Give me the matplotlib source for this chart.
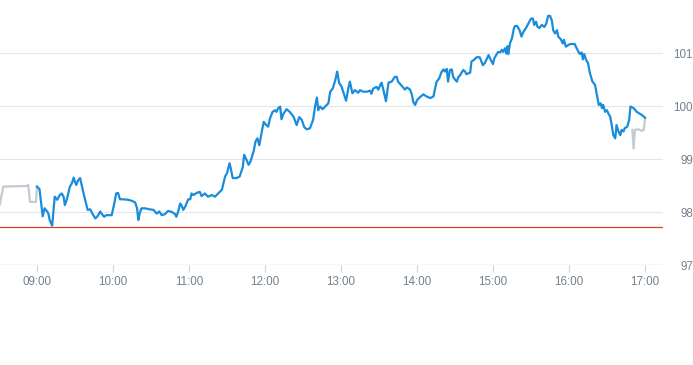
import matplotlib
matplotlib.use("Agg")
import matplotlib.pyplot as plt
import matplotlib.transforms as mtransforms

plt.rcParams['font.family'] = ['Liberation Sans', 'DejaVu Sans']

# minutes after 09:00
pre_t = [-29.5, -26.6, -8.1, -6.9, -5.5, -0.8, 0]
pre_p = [98.13, 98.48, 98.49, 98.51, 98.19, 98.19, 98.48]

main_t = [0, 2, 3, 4.5, 6, 8, 9, 10, 12, 13, 14, 16, 18, 19.5, 21, 22, 23.5, 25, 26, 27.5,
          29, 30, 31, 32.5, 34, 35, 36.5, 38, 40, 42, 44, 46, 47.5, 50, 51, 53, 54.5, 56, 59,
          61, 62.5, 64, 65.5, 68, 72, 75, 77.5, 79, 80, 81, 82.5, 85, 89, 92, 94.5, 96.5, 98.5,
          101, 103.5, 106.5, 109, 110, 111.5, 113, 114, 115.5, 117, 118, 119.5, 121, 122, 123.5,
          126, 128.5, 130, 132.5, 135, 138, 140.5, 143, 146, 148.5, 150, 152, 153, 154.5, 157.5,
          160, 162.5, 163.5, 165.5, 167, 168.5, 171, 172.5, 174, 175.5, 177.5, 179, 181, 182.5,
          184, 186, 188, 189, 190.5, 192, 193, 194.5, 197, 199.5, 202.5, 205, 207, 209, 211, 213,
          215.5, 218, 219.5, 221, 222, 223.5, 225.5, 228, 230, 231.5, 233.5, 235.5, 237, 238.5,
          240.5, 242.5, 244, 246, 247, 249, 251, 253.5, 255, 257.5, 260.5, 263, 264, 265.5, 268,
          269.5, 271, 272, 273.5, 275.5, 277.5, 280, 282.5, 284, 285, 288, 290.5, 292, 294.5, 296,
          297, 298.5, 300, 302.5, 305, 307.5, 310.5, 313, 314, 315.5, 317.5, 319.5, 321, 322,
          323.5, 324.5, 326, 327.5, 328.5, 330, 331.5, 332.5, 334, 336.5, 338, 339, 342, 343, 345,
          347, 349.5, 352, 353.5, 356.5, 358, 360, 361, 362.5, 364, 365.5, 367, 368, 369.5, 370.5,
          371.5, 372, 373.5, 375, 376.5, 377.5, 379, 381, 382.5, 384, 386, 388, 390, 391.5, 392.5,
          394, 395, 396.5, 398.5, 400.5, 402, 403.5, 405, 406.5, 407.5, 409, 410.5, 411.5, 413.5,
          415, 416, 417.5, 419.5, 421, 424.5, 426, 428.5, 430, 431, 432, 433.5, 435, 436.5, 438.5,
          440.5, 442, 443.5, 445, 446, 447, 448.5, 450, 451, 452.5, 453.5, 455, 456.5, 457.5, 459,
          460.5, 461.5, 463, 464, 466, 467.5, 468.5, 471, 473.5, 477.5, 480]
main_p = [98.48, 98.43, 98.23, 97.92, 98.07, 98.01, 97.97, 97.85, 97.74, 98.01, 98.29, 98.23,
          98.32, 98.35, 98.29, 98.13, 98.23, 98.38, 98.48, 98.54, 98.65, 98.57, 98.51, 98.60,
          98.64, 98.54, 98.38, 98.23, 98.04, 98.05, 97.96, 97.88, 97.91, 98.01, 97.97, 97.91,
          97.94, 97.94, 97.94, 98.16, 98.35, 98.36, 98.24, 98.24, 98.23, 98.21, 98.18, 98.07,
          97.85, 97.97, 98.07, 98.07, 98.05, 98.04, 97.97, 98.01, 97.94, 97.96, 98.02, 98.00,
          97.96, 97.91, 98.01, 98.16, 98.13, 98.04, 98.10, 98.16, 98.24, 98.24, 98.35, 98.32,
          98.36, 98.38, 98.30, 98.35, 98.29, 98.32, 98.29, 98.35, 98.42, 98.67, 98.73, 98.92,
          98.82, 98.64, 98.64, 98.67, 98.85, 99.08, 98.98, 98.89, 98.95, 99.14, 99.33, 99.39,
          99.26, 99.52, 99.70, 99.64, 99.61, 99.77, 99.89, 99.92, 99.89, 99.96, 99.99, 99.75,
          99.85, 99.94, 99.89, 99.80, 99.64, 99.79, 99.74, 99.60, 99.56, 99.58, 99.74, 99.99,
          100.16, 99.92, 99.99, 99.94, 100.00, 100.05, 100.27, 100.33, 100.49, 100.65, 100.44,
          100.36, 100.21, 100.10, 100.36, 100.46, 100.24, 100.30, 100.25, 100.30, 100.27, 100.27,
          100.29, 100.23, 100.33, 100.36, 100.31, 100.40, 100.44, 100.30, 100.09, 100.44, 100.46,
          100.55, 100.55, 100.46, 100.38, 100.31, 100.35, 100.31, 100.21, 100.08, 100.02, 100.11,
          100.17, 100.22, 100.18, 100.15, 100.18, 100.30, 100.46, 100.52, 100.65, 100.69, 100.65,
          100.70, 100.46, 100.68, 100.69, 100.55, 100.50, 100.46, 100.54, 100.58, 100.68, 100.65,
          100.60, 100.63, 100.84, 100.87, 100.92, 100.92, 100.77, 100.81, 100.96, 100.88, 100.79,
          100.90, 100.96, 101.02, 101.01, 101.06, 101.02, 101.09, 100.99, 101.13, 100.98, 101.19,
          101.28, 101.47, 101.51, 101.51, 101.43, 101.31, 101.40, 101.47, 101.56, 101.65, 101.65,
          101.53, 101.59, 101.50, 101.47, 101.53, 101.49, 101.55, 101.70, 101.70, 101.61, 101.43,
          101.37, 101.43, 101.31, 101.26, 101.18, 101.25, 101.12, 101.15, 101.17, 101.17, 101.09,
          100.98, 101.01, 100.88, 100.98, 100.87, 100.81, 100.62, 100.46, 100.40, 100.21, 100.02,
          100.05, 99.96, 100.02, 99.89, 99.92, 99.86, 99.80, 99.67, 99.45, 99.39, 99.64, 99.52,
          99.45, 99.55, 99.52, 99.58, 99.61, 99.74, 99.99, 99.96, 99.89, 99.83, 99.78]

post_t = [470, 471, 472, 475, 477.5, 479, 480]
post_p = [99.55, 99.20, 99.55, 99.56, 99.53, 99.55, 99.77]

prev_close = 97.72

x_ticks = [0, 60, 120, 180, 240, 300, 360, 420, 480]
x_labels = ["09:00", "10:00", "11:00", "12:00", "13:00", "14:00", "15:00", "16:00", "17:00"]
y_ticks = [97, 98, 99, 100, 101]
y_labels = ["97", "98", "99", "100", "101"]

W, H = 693, 365
fig = plt.figure(figsize=(W / 100, H / 100), dpi=100)
ax = fig.add_axes([0, (H - 265) / H, 663 / W, 265 / H])
ax.set_xlim(-29.2, 494.2)
ax.set_ylim(97, 102)

grid_c = '#e6e6e6'
for v in y_ticks[1:]:
    ax.axhline(v, color=grid_c, lw=0.8, zorder=1)
ax.axhline(97, color='#ccd6eb', lw=1.0, zorder=2)
ax.axhline(prev_close, color='#d9412f', lw=0.9, zorder=2)

ax.plot(pre_t, pre_p, color='#c2cad2', lw=1.6, zorder=3, solid_joinstyle='round')
ax.plot(post_t, post_p, color='#c2cad2', lw=1.6, zorder=3, solid_joinstyle='round')
ax.plot(main_t, main_p, color='#1a8cdc', lw=1.6, zorder=4, solid_joinstyle='round')

for s in ax.spines.values():
    s.set_visible(False)
ax.set_xticks(x_ticks)
ax.set_xticklabels(x_labels)
ax.tick_params(axis='x', length=5, width=0.8, color='#ccd6eb', pad=3,
               labelsize=8.4, labelcolor='#74818f')
ax.set_yticks([])

trans = mtransforms.blended_transform_factory(fig.transFigure, ax.transData)
for v, lab in zip(y_ticks, y_labels):
    ax.text(1.0, v - 0.04, lab, transform=trans, ha='right', va='center',
            fontsize=8.4, color='#74818f', clip_on=False)

fig.savefig("out.png", dpi=100)
